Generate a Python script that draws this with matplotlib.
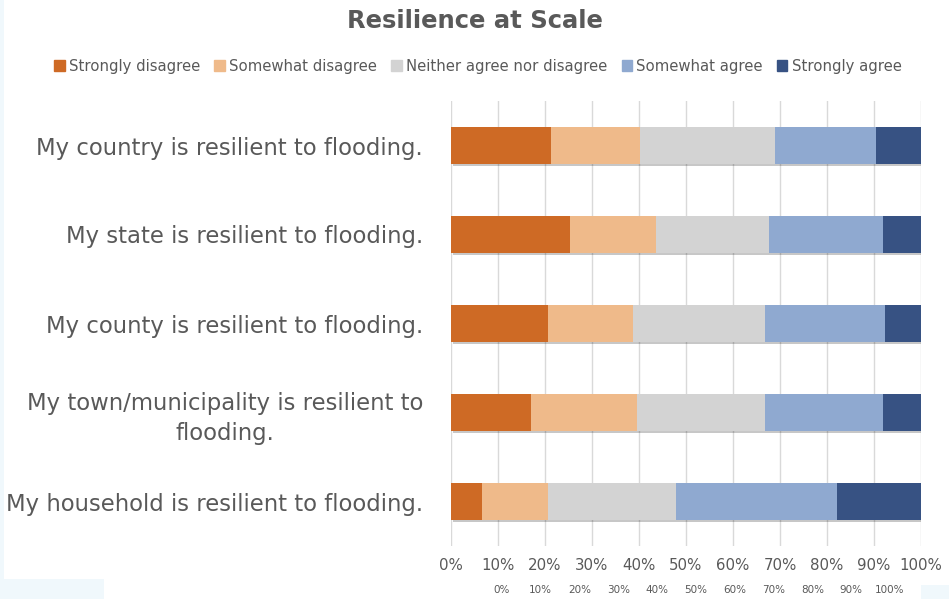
import matplotlib
matplotlib.use("Agg")
import matplotlib.pyplot as plt
import matplotlib.patches as mpatches
import matplotlib.patheffects as pe
import numpy as np

categories = [
    "My country is resilient to flooding.",
    "My state is resilient to flooding.",
    "My county is resilient to flooding.",
    "My town/municipality is resilient to\nflooding.",
    "My household is resilient to flooding.",
]
series_names = ["Strongly disagree", "Somewhat disagree", "Neither agree nor disagree",
                "Somewhat agree", "Strongly agree"]
strongly_disagree = [21.3, 25.4, 20.6, 17.1, 6.5]
somewhat_disagree = [18.9, 18.2, 18.2, 22.4, 14.2]
neither = [28.7, 24.1, 28.0, 27.3, 27.1]
somewhat_agree = [21.5, 24.2, 25.6, 25.1, 34.3]
strongly_agree = [9.6, 8.1, 7.6, 8.1, 17.9]
tick_vals = [0, 10, 20, 30, 40, 50, 60, 70, 80, 90, 100]
tick_labels = [f"{v}%" for v in tick_vals]

colors = ["#CE6A25", "#EFBA8A", "#D3D3D3", "#8FA9D0", "#375283"]
text_color = "#595959"
font = "DejaVu Sans"

fig = plt.figure(figsize=(9.49, 5.99), dpi=100)
fig.patch.set_facecolor("white")

# light background pieces
for rect in [(0, 0, 4/949, 1), (0, 0, 104/949, 20/599), (921/949, 0, 28/949, 14/599)]:
    fig.patches.append(mpatches.Rectangle(rect[:2], rect[2], rect[3], transform=fig.transFigure,
                                          facecolor="#F0F8FC", edgecolor="none", zorder=0))

ax = fig.add_axes([451/949, 1 - 546/599, 470/949, 445/599])
y = np.arange(len(categories))
series = [strongly_disagree, somewhat_disagree, neither, somewhat_agree, strongly_agree]
left = np.zeros(len(categories))
for name, vals, c in zip(series_names, series, colors):
    bars = ax.barh(y, vals, left=left, height=0.42, color=c, label=name, zorder=3)
    for b in bars:
        b.set_path_effects([pe.SimplePatchShadow(offset=(1.2, -1.5), shadow_rgbFace="#000000", alpha=0.22), pe.Normal()])
    left += np.array(vals)

ax.set_xlim(0, 100)
ax.set_ylim(len(categories) - 0.5, -0.5)
ax.set_xticks(tick_vals)
ax.set_xticklabels(tick_labels, fontsize=10.8, color=text_color, family=font)
ax.set_yticks(y)
ax.set_yticklabels(categories, fontsize=16.4, color=text_color, family=font)
for lbl in ax.get_yticklabels():
    lbl.set_multialignment("center")
    lbl.set_linespacing(1.4)
ax.tick_params(axis="both", length=0)
ax.tick_params(axis="y", pad=20)
ax.tick_params(axis="x", pad=9)
ax.grid(axis="x", color="#D9D9D9", linewidth=1, zorder=0)
for s in ax.spines.values():
    s.set_visible(False)

# second row of tick labels
ax2 = fig.add_axes([501.7/949, 1 - 585/599, 388.3/949, 0.0001])
ax2.set_xlim(0, 100)
ax2.set_xticks(tick_vals)
ax2.set_xticklabels(tick_labels, fontsize=7.5, color=text_color, family=font)
ax2.set_yticks([])
ax2.tick_params(axis="x", length=0, pad=0)
ax2.patch.set_visible(False)
for s in ax2.spines.values():
    s.set_visible(False)

fig.text(475/949, 1 - 21/599, "Resilience at Scale", ha="center", va="center",
         fontsize=17.5, fontweight="bold", color=text_color, family=font)

leg_handles = [mpatches.Patch(color=c) for c in colors]
fig.legend(leg_handles, series_names, loc="center", bbox_to_anchor=(478/949, 1 - 66/599),
           ncol=5, frameon=False, handlelength=0.7, handleheight=0.7,
           handletextpad=0.3, columnspacing=0.95, labelcolor=text_color,
           prop={"family": font, "size": 10.7})

fig.savefig("out.png", dpi=100, facecolor="white")
